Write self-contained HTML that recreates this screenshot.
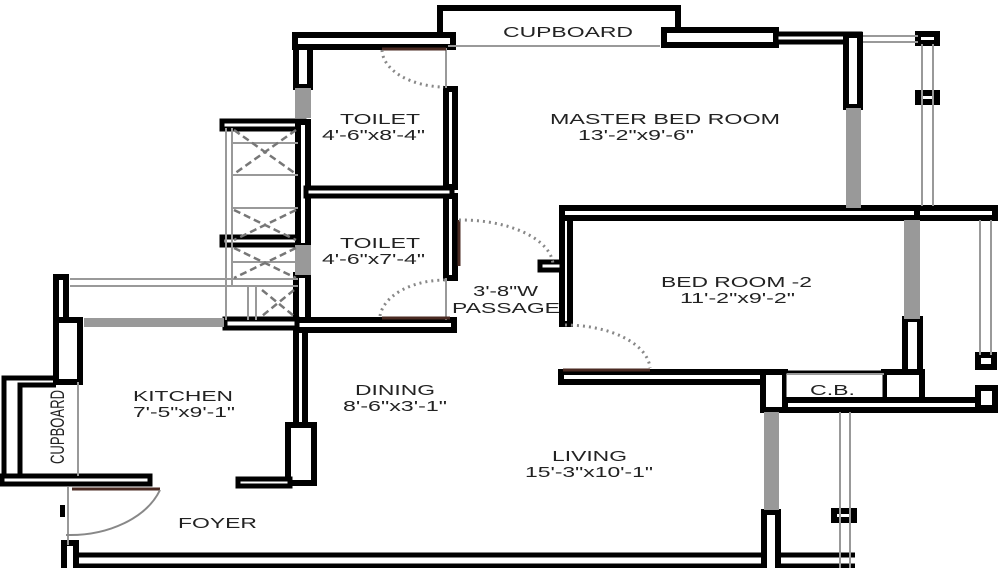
<!DOCTYPE html>
<html><head><meta charset="utf-8"><style>
html,body{margin:0;padding:0;background:#fff;}
svg{display:block;}
text{font-family:"Liberation Sans",Arial,sans-serif;font-size:15px;fill:#222;}
</style></head><body>
<svg width="1000" height="568" viewBox="0 0 1000 568" xmlns="http://www.w3.org/2000/svg">
<g fill="#fff" stroke="#000" stroke-width="6">
<path d="M440 45 V8 H678 V30" fill="none"/>
<rect x="295" y="35" width="158" height="12"/>
<rect x="664" y="30" width="112" height="15"/>
<rect x="776" y="34" width="84" height="8" stroke-width="5"/>
<rect x="846" y="35" width="14" height="72"/>
<rect x="296" y="47" width="14" height="40"/>
<rect x="222" y="121" width="82" height="8" stroke-width="5"/>
<rect x="222" y="237" width="82" height="8" stroke-width="5"/>
<rect x="298" y="122" width="10" height="124"/>
<rect x="446" y="89" width="9" height="98"/>
<rect x="446" y="196" width="9" height="82"/>
<rect x="306" y="188" width="146" height="8" stroke-width="5"/>
<rect x="296" y="275" width="12" height="45"/>
<rect x="296" y="320" width="158" height="10"/>
<rect x="225" y="319" width="72" height="9" stroke-width="5"/>
<rect x="56" y="277" width="10" height="100"/>
<rect x="56" y="320" width="24" height="62"/>
<path d="M4 478 V378 H56" fill="none" stroke-width="5"/>
<path d="M20 478 V385 H56" fill="none" stroke-width="5"/>
<rect x="2" y="476" width="148" height="8" stroke-width="5"/>
<rect x="296" y="330" width="9" height="95"/>
<rect x="288" y="425" width="26" height="58"/>
<rect x="238" y="479" width="52" height="7" stroke-width="5"/>
<rect x="64" y="543" width="12" height="30"/>
<path d="M76 555 H770 M76 566 H770" fill="none" stroke-width="5"/>
<rect x="764" y="512" width="14" height="60"/>
<path d="M778 555 H855 M778 566 H855" fill="none" stroke-width="5"/>
<rect x="562" y="218" width="8" height="106"/>
<rect x="540" y="262" width="22" height="8" stroke-width="5"/>
<rect x="562" y="208" width="355" height="10"/>
<rect x="917" y="208" width="78" height="10"/>
<rect x="905" y="319" width="15" height="53"/>
<rect x="884" y="372" width="38" height="38"/>
<rect x="561" y="372" width="222" height="10"/>
<rect x="763" y="372" width="22" height="38"/>
<rect x="785" y="372" width="99" height="30" stroke-width="3"/>
<rect x="785" y="400" width="210" height="10"/>
<rect x="978" y="388" width="17" height="20"/>
<rect x="978" y="355" width="16" height="12"/>
<rect x="918" y="34" width="19" height="9"/>
<rect x="918" y="93" width="19" height="9"/>
<rect x="834" y="511" width="20" height="9"/>
</g>
<g fill="#999">
<rect x="846" y="108" width="15" height="100"/>
<rect x="295" y="88" width="16" height="30"/>
<rect x="295" y="245" width="16" height="30"/>
<rect x="84" y="318" width="140" height="9"/>
<rect x="904" y="220" width="16" height="99"/>
<rect x="764" y="412" width="15" height="98"/>
</g>
<g stroke="#999" stroke-width="2" fill="none">
<path d="M863 36 H918 M863 42 H918"/>
<path d="M922 44 V206 M933 44 V206"/>
<path d="M980 220 V355 M991 220 V355"/>
<path d="M840 412 V568 M850 412 V568"/>
<path d="M70 279 H298 M70 286 H298"/>
<path d="M226 128 V320 M232 128 V285"/>
<path d="M248 286 V320 M256 286 V320"/>
<path d="M446 48 V88 M446 278 V320"/>
<path d="M448 46 H660"/>
<path d="M78 382 V476"/>
<path d="M68 487 V545"/>
<path d="M787 374 H884"/>
<path d="M232 143 H298 M232 175 H298 M232 208 H298 M232 262 H298"/>
</g>
<g stroke="#777" stroke-width="2.5" stroke-dasharray="7,4" fill="none">
<path d="M234 130 L296 174 M296 130 L234 174"/>
<path d="M234 210 L296 240 M296 210 L234 240"/>
<path d="M234 248 L296 278 M296 248 L234 278"/>
<path d="M262 290 L294 316 M294 290 L262 316"/>
</g>
<g stroke="#4a2a22" stroke-width="3">
<path d="M382 49 H446"/>
<path d="M382 318 H450"/>
<path d="M459 220 V266"/>
<path d="M563 370 H650"/>
<path d="M72 489 H160"/>
</g>
<g stroke="#888" stroke-width="3" stroke-dasharray="2,4" fill="none">
<path d="M382 50 A64 38 0 0 0 444 87"/>
<path d="M380 316 A66 40 0 0 1 446 280"/>
<path d="M459 220 A92 46 0 0 1 553 264"/>
<path d="M565 325 A85 45 0 0 1 650 368"/>
</g>
<path d="M160 490 A95 66 0 0 1 66 535" stroke="#888" stroke-width="2" fill="none"/>
<rect x="60" y="505" width="5" height="12" fill="#000"/>
<text x="503" y="37" textLength="130" lengthAdjust="spacingAndGlyphs">CUPBOARD</text>
<text x="550" y="124" textLength="230" lengthAdjust="spacingAndGlyphs">MASTER BED ROOM</text>
<text x="578" y="140" textLength="116" lengthAdjust="spacingAndGlyphs">13'-2"x9'-6"</text>
<text x="340" y="124" textLength="80" lengthAdjust="spacingAndGlyphs">TOILET</text>
<text x="322" y="140" textLength="103" lengthAdjust="spacingAndGlyphs">4'-6"x8'-4"</text>
<text x="340" y="248" textLength="80" lengthAdjust="spacingAndGlyphs">TOILET</text>
<text x="322" y="264" textLength="103" lengthAdjust="spacingAndGlyphs">4'-6"x7'-4"</text>
<text x="473" y="296" textLength="65" lengthAdjust="spacingAndGlyphs">3'-8"W</text>
<text x="452" y="313" textLength="108" lengthAdjust="spacingAndGlyphs">PASSAGE</text>
<text x="661" y="287" textLength="151" lengthAdjust="spacingAndGlyphs">BED ROOM -2</text>
<text x="680" y="303" textLength="115" lengthAdjust="spacingAndGlyphs">11'-2"x9'-2"</text>
<text x="133" y="401" textLength="100" lengthAdjust="spacingAndGlyphs">KITCHEN</text>
<text x="133" y="417" textLength="102" lengthAdjust="spacingAndGlyphs">7'-5"x9'-1"</text>
<text x="355" y="395" textLength="80" lengthAdjust="spacingAndGlyphs">DINING</text>
<text x="343" y="411" textLength="104" lengthAdjust="spacingAndGlyphs">8'-6"x3'-1"</text>
<text x="552" y="461" textLength="75" lengthAdjust="spacingAndGlyphs">LIVING</text>
<text x="525" y="477" textLength="128" lengthAdjust="spacingAndGlyphs">15'-3"x10'-1"</text>
<text x="178" y="528" textLength="79" lengthAdjust="spacingAndGlyphs">FOYER</text>
<text x="810" y="395" textLength="45" lengthAdjust="spacingAndGlyphs">C.B.</text>
<text transform="translate(64,464) rotate(-90)" style="font-size:19px" textLength="74" lengthAdjust="spacingAndGlyphs">CUPBOARD</text>
</svg>
</body></html>
